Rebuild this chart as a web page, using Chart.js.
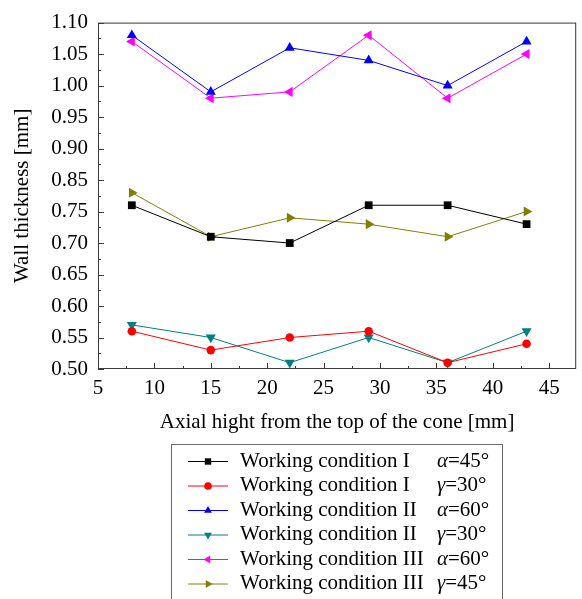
<!DOCTYPE html>
<html>
<head>
<meta charset="utf-8">
<script src="https://cdn.jsdelivr.net/npm/chart.js@4.4.0/dist/chart.umd.min.js"></script>
<style>
  html, body { margin: 0; padding: 0; background: #fff; }
</style>
</head>
<body>
<canvas id="thickness" width="582" height="599"></canvas>
<script>
// axial positions of the measuring points [mm]
const positions = [8, 15, 22, 29, 36, 43]

// printed labels of the thickness axis (0.80 is not on it)
const yTickLabels = ['0.50', '0.55', '0.60', '0.65', '0.70', '0.75', '0.85', '0.90', '0.95', '1.00', '1.05', '1.10']

// wall thickness [mm]
const condI_a45 = [0.77, 0.71, 0.70, 0.77, 0.77, 0.73]
const condI_g30 = [0.56, 0.53, 0.55, 0.56, 0.51, 0.54]
const condII_a60 = [1.08, 0.99, 1.06, 1.04, 1.00, 1.07]
const condII_g30 = [0.57, 0.55, 0.51, 0.55, 0.51, 0.56]
const condIII_a60 = [1.07, 0.98, 0.99, 1.08, 0.98, 1.05]
const condIII_g45 = [0.81, 0.71, 0.74, 0.73, 0.71, 0.75]

const seriesNames = ['Working condition I', 'Working condition I', 'Working condition II',
  'Working condition II', 'Working condition III', 'Working condition III']
const angleSymbols = ['α', 'γ', 'α', 'γ', 'α', 'γ']
const angleValues = ['=45°', '=30°', '=60°', '=30°', '=60°', '=45°']

const serif = '"Liberation Serif", "Times New Roman", serif'
const fontSize = 21

// the axis is evenly spaced by label, so map a value onto label index
function toAxis(v) {
  const vals = yTickLabels.map(Number)
  for (let i = 0; i < vals.length - 1; i++) {
    if (v <= vals[i + 1]) return i + (v - vals[i]) / (vals[i + 1] - vals[i])
  }
  return vals.length - 1
}
const points = arr => arr.map((v, i) => ({ x: positions[i], y: toAxis(v) }))

const styles = [
  { color: '#000000', pointStyle: 'rect', rot: 0, r: 5.5 },
  { color: '#ff0000', pointStyle: 'circle', rot: 0, r: 4.3 },
  { color: '#0000ff', pointStyle: 'triangle', rot: 0, r: 5.8 },
  { color: '#008080', pointStyle: 'triangle', rot: 180, r: 5.8 },
  { color: '#ff00ff', pointStyle: 'triangle', rot: 270, r: 5.8 },
  { color: '#808000', pointStyle: 'triangle', rot: 90, r: 5.8 }
]
const series = [condI_a45, condI_g30, condII_a60, condII_g30, condIII_a60, condIII_g45]

const datasets = series.map((arr, i) => ({
  label: seriesNames[i] + ' ' + angleSymbols[i] + angleValues[i],
  data: points(arr),
  borderColor: styles[i].color,
  backgroundColor: styles[i].color,
  borderWidth: 1,
  pointStyle: styles[i].pointStyle,
  pointRotation: styles[i].rot,
  pointRadius: styles[i].r,
  pointBorderWidth: 0,
  tension: 0,
  clip: false
}))

// box around the plot with inward ticks
const framePlugin = {
  id: 'frame',
  beforeDatasetsDraw(chart) {
    const { ctx, chartArea: a, scales: { x, y } } = chart
    ctx.save()
    ctx.strokeStyle = '#3a3a3a'
    ctx.lineWidth = 1
    ctx.strokeRect(a.left + 0.5, a.top + 0.5, a.right - a.left - 1, a.bottom - a.top - 1)
    ctx.beginPath()
    for (let v = 5; v <= x.max; v += 2.5) {
      const px = Math.round(x.getPixelForValue(v)) + 0.5
      const len = v % 5 === 0 ? 6 : 3
      ctx.moveTo(px, a.bottom)
      ctx.lineTo(px, a.bottom - len)
    }
    for (let v = 0; v <= y.max; v += 0.5) {
      const py = Math.round(y.getPixelForValue(v)) + 0.5
      const len = v % 1 === 0 ? 6 : 3
      ctx.moveTo(a.left, py)
      ctx.lineTo(a.left + len, py)
    }
    ctx.stroke()
    ctx.restore()
  }
}

// boxed legend under the axis
const legendPlugin = {
  id: 'boxLegend',
  afterDraw(chart) {
    const ctx = chart.ctx
    const left = 171, top = 444
    ctx.save()
    ctx.strokeStyle = '#6a6a6a'
    ctx.lineWidth = 1
    ctx.strokeRect(left + 0.5, top + 0.5, 331, 200)
    ctx.textBaseline = 'middle'
    chart.data.datasets.forEach((ds, i) => {
      const yy = 461 + i * 24.5
      ctx.strokeStyle = ds.borderColor
      ctx.beginPath()
      ctx.moveTo(188, yy + 0.5)
      ctx.lineTo(228, yy + 0.5)
      ctx.stroke()
      ctx.fillStyle = ds.backgroundColor
      Chart.helpers.drawPoint(ctx, {
        pointStyle: ds.pointStyle, rotation: ds.pointRotation,
        radius: ds.pointStyle === 'circle' ? 3.8 : 4.5, borderWidth: 0
      }, 208, yy + 0.5)
      ctx.fillStyle = '#000'
      ctx.font = fontSize + 'px ' + serif
      ctx.fillText(seriesNames[i], 240, yy)
      ctx.font = 'italic ' + fontSize + 'px ' + serif
      ctx.fillText(angleSymbols[i], 437, yy)
      const w = ctx.measureText(angleSymbols[i]).width
      ctx.font = fontSize + 'px ' + serif
      ctx.fillText(angleValues[i], 437 + w, yy)
    })
    ctx.restore()
  }
}

new Chart(document.getElementById('thickness'), {
  type: 'line',
  data: { datasets },
  options: {
    responsive: false,
    animation: false,
    layout: { padding: { left: 0, right: 2, top: 15, bottom: 162 } },
    plugins: { legend: { display: false }, tooltip: { enabled: false } },
    scales: {
      x: {
        type: 'linear',
        min: 5,
        max: 47.4,
        grid: { display: false, drawTicks: false },
        border: { display: false },
        ticks: { stepSize: 5, includeBounds: false, padding: 7, color: '#000', font: { family: serif, size: fontSize } },
        title: {
          display: true,
          text: 'Axial hight from the top of the cone [mm]',
          color: '#000',
          font: { family: serif, size: fontSize },
          padding: { top: 0, bottom: 2 }
        },
        afterFit: s => { s.height = 68 }
      },
      y: {
        type: 'linear',
        min: 0,
        max: 11,
        grid: { display: false, drawTicks: false },
        border: { display: false },
        ticks: {
          stepSize: 1,
          padding: 10,
          color: '#000',
          font: { family: serif, size: fontSize },
          callback: v => yTickLabels[v]
        },
        title: {
          display: true,
          text: 'Wall thickness [mm]',
          color: '#000',
          font: { family: serif, size: fontSize },
          padding: { top: 10, bottom: 0 }
        },
        afterFit: s => { s.width = 98 }
      }
    }
  },
  plugins: [framePlugin, legendPlugin]
})
</script>
</body>
</html>
